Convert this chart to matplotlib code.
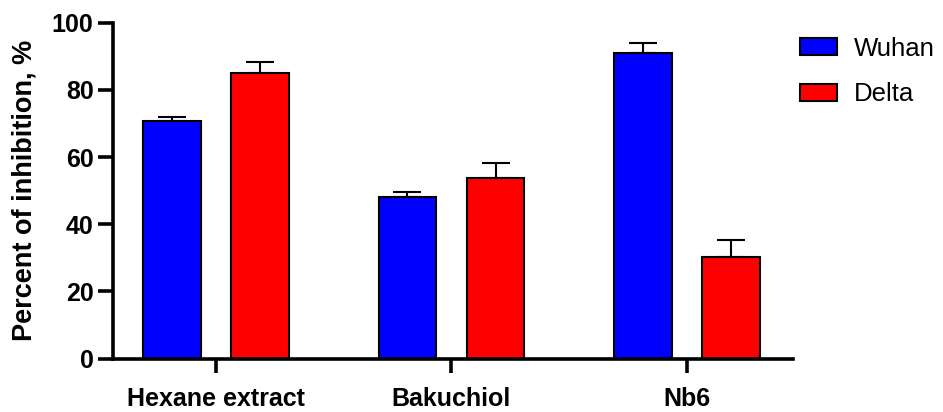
import matplotlib
matplotlib.use("Agg")
import matplotlib.pyplot as plt
import numpy as np

categories = ["Hexane extract", "Bakuchiol", "Nb6"]
series_names = ["Wuhan", "Delta"]
wuhan = [70.8, 48.2, 90.9]
wuhan_err = [1.1, 1.3, 3.0]
delta = [84.9, 53.8, 30.1]
delta_err = [3.3, 4.5, 5.2]
colors = ["#0000FF", "#FF0000"]
yticks = [0, 20, 40, 60, 80, 100]

plt.rcParams['font.family'] = ['Liberation Sans', 'DejaVu Sans']

fig = plt.figure(figsize=(9.43, 4.12), dpi=100)
ax = fig.add_axes([113/943, 53.5/412, (793-113)/943, (389.3-53.5)/412])

x = np.arange(len(categories))
w = 0.245
off = 0.187
for vals, errs, c, name, sgn in [(wuhan, wuhan_err, colors[0], series_names[0], -1),
                                  (delta, delta_err, colors[1], series_names[1], 1)]:
    ax.bar(x + sgn*off, vals, width=w, color=c, edgecolor='black', linewidth=1.5,
           label=name, zorder=2)
    ax.errorbar(x + sgn*off, vals, yerr=[np.zeros(len(errs)), errs], fmt='none',
                ecolor='black', elinewidth=1.5, capsize=10, capthick=1.5, zorder=1)

ax.set_xlim(-0.436, 2.449)
ax.set_ylim(0, 100)
ax.set_yticks(yticks)
ax.set_xticks(x)
ax.set_xticklabels(categories, fontsize=18, fontweight='bold')
ax.set_yticklabels([str(t) for t in yticks], fontsize=18, fontweight='bold')
ax.set_ylabel("Percent of inhibition, %", fontsize=19.5, fontweight='bold', labelpad=10)

for s in ['top', 'right']:
    ax.spines[s].set_visible(False)
for s in ['left', 'bottom']:
    ax.spines[s].set_linewidth(2.6)
ax.tick_params(axis='y', length=11, width=2.6, pad=3)
ax.tick_params(axis='x', length=10, width=2.6, pad=10.5)

leg = ax.legend(loc='upper left', bbox_to_anchor=(0.984, 1.012), frameon=False,
                fontsize=18.5, handlelength=1.45, handleheight=0.62, handletextpad=0.65,
                labelspacing=0.85, borderaxespad=0.3)

fig.savefig("out.png", dpi=100)
